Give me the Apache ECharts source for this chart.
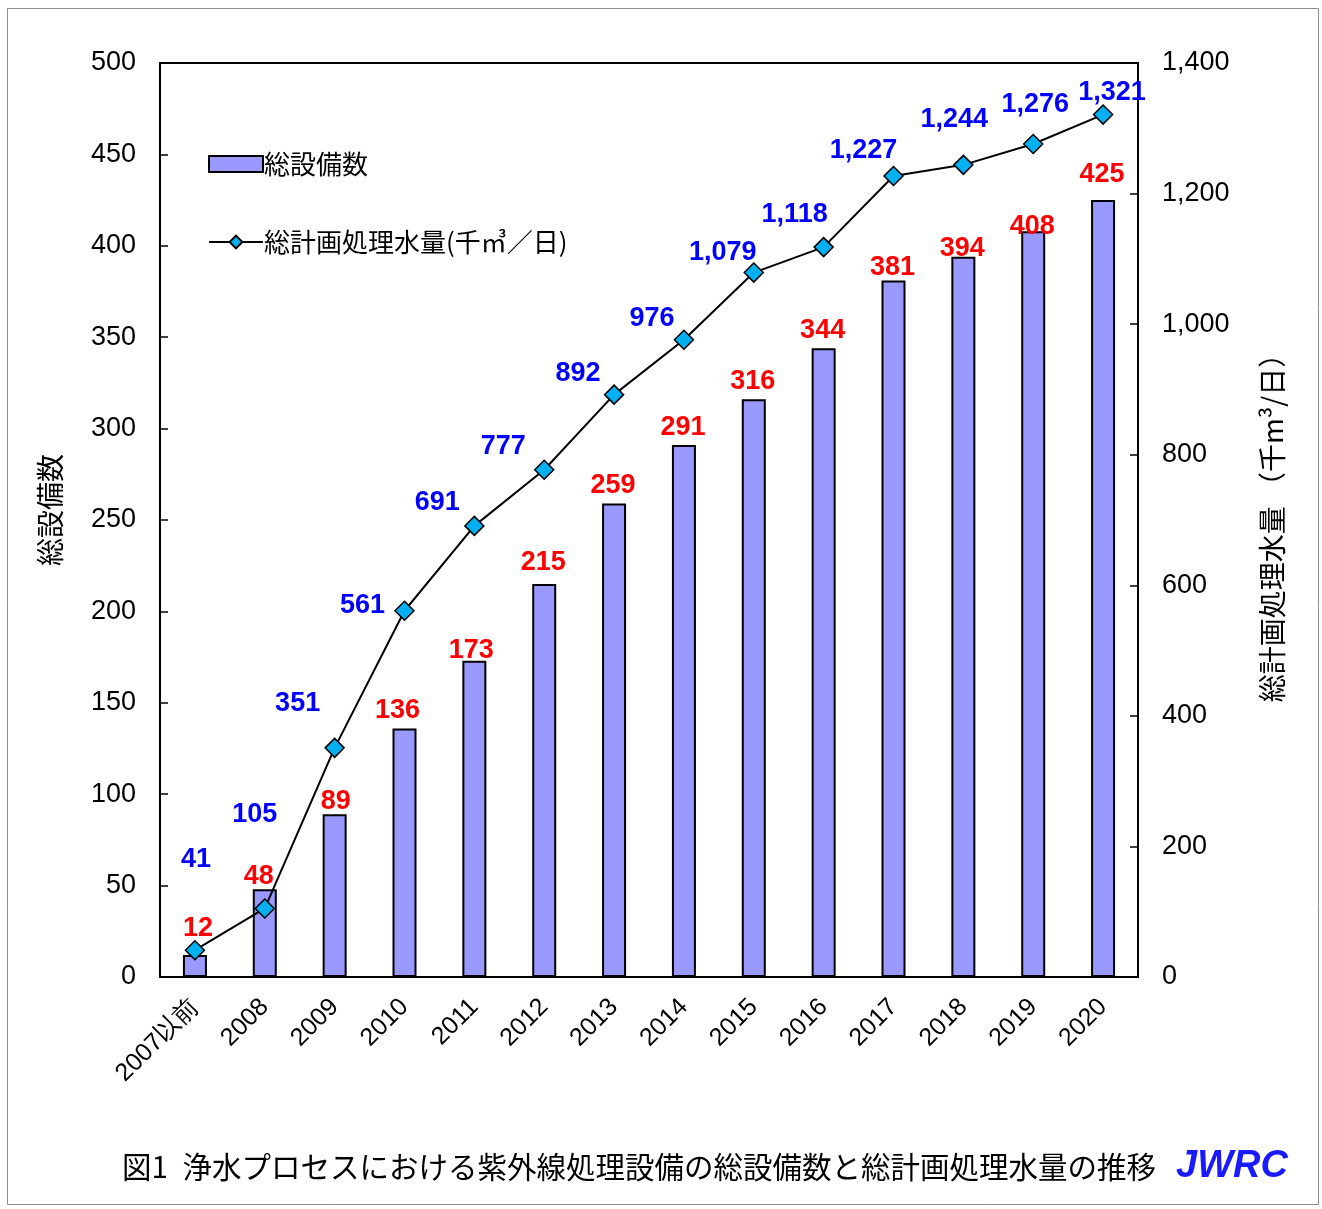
<!DOCTYPE html>
<html><head><meta charset="utf-8">
<script src="https://cdn.jsdelivr.net/npm/echarts@6/dist/echarts.min.js"></script>
<style>html,body{margin:0;padding:0;background:#fff}#c{width:1322px;height:1209px}</style>
</head><body><div id="c"></div>
<script>
const categories = ['2007以前','2008','2009','2010','2011','2012','2013','2014','2015','2016','2017','2018','2019','2020'];
const facilityCount = [12,48,89,136,173,215,259,291,316,344,381,394,408,425];
const treatmentVolume = [41,105,351,561,691,777,892,976,1079,1118,1227,1244,1276,1321];
const leftTicks = {min:0, max:500, interval:50};
const rightTicks = {min:0, max:1400, interval:200};
const leftAxisName = '総設備数';
const rightAxisName = '総計画処理水量 （千m³/日）';
const titleText = '図1\u2002浄水プロセスにおける紫外線処理設備の総設備数と総計画処理水量の推移';

// label placement (style), relative offsets in px
const barLabelOffsets = [[3,-13],[-6,1],[1,1],[-7,-4],[-3,3],[-1,-8],[-1,-5],[-1,-4],[-1,-4],[-1,-4],[-1,1],[-1,5],[-1,9],[-1,-12]];
const lineLabelOffsets = [[1,-91],[-10,-94],[-37,-44],[-42,-5],[-37,-23],[-41,-23],[-36,-21],[-32,-21],[-31,-20],[-29,-33],[-30,-25],[-9,-45],[2,-39],[9,-22]];

const NUM = 'Liberation Sans, Arial, sans-serif';
const JP = '"Noto Sans CJK JP", sans-serif';

const chart = echarts.init(document.getElementById('c'), null, {renderer:'canvas'});
chart.setOption({
  animation:false,
  backgroundColor:'#fff',
  graphic:[
    {type:'rect', shape:{x:7.5,y:8.5,width:1311,height:1196}, style:{fill:'none', stroke:'#8c8c8c', lineWidth:1}, z:-1},
    {type:'text', left:122, top:1152, style:{text:titleText, font:'29.5px '+JP, fill:'#000'}},
    {type:'text', left:1176, top:1148, style:{text:'JWRC', font:'italic bold 38px '+NUM, fill:'#1a1aff'}},
    {type:'text', x:50, y:510, rotation:Math.PI/2, style:{text:leftAxisName, font:'28px '+JP, fill:'#000', align:'center', verticalAlign:'middle'}},
    {type:'text', x:1272, y:521, rotation:Math.PI/2, style:{text:rightAxisName, font:'28px '+JP, fill:'#000', align:'center', verticalAlign:'middle'}}
  ],
  grid:{left:160, top:63, right:184, bottom:232, show:true, borderColor:'#000', borderWidth:2, backgroundColor:'transparent'},
  legend:{
    orient:'vertical', left:203, top:146, itemGap:52, itemWidth:54, itemHeight:16,
    textStyle:{fontFamily:JP, fontSize:26, color:'#000', padding:[0,0,0,-4]},
    data:[{name:'総設備数', icon:'rect'}, {name:'総計画処理水量(千㎥／日)'}]
  },
  xAxis:{
    type:'category', data:categories,
    axisLine:{lineStyle:{color:'#000', width:2}},
    axisTick:{inside:true, length:8, lineStyle:{color:'#000', width:1.5}},
    axisLabel:{rotate:45, fontFamily:NUM, fontSize:25, color:'#000', margin:26, interval:0}
  },
  yAxis:[
    {type:'value', min:leftTicks.min, max:leftTicks.max, interval:leftTicks.interval,
     axisLine:{show:true, lineStyle:{color:'#000', width:2}},
     axisTick:{show:true, inside:true, length:8, lineStyle:{color:'#000', width:1.5}},
     splitLine:{show:false},
     axisLabel:{fontFamily:NUM, fontSize:27, color:'#000', margin:24}},
    {type:'value', min:rightTicks.min, max:rightTicks.max, interval:rightTicks.interval, position:'right',
     axisLine:{show:true, lineStyle:{color:'#000', width:2}},
     axisTick:{show:true, inside:true, length:8, lineStyle:{color:'#000', width:1.5}},
     splitLine:{show:false},
     axisLabel:{fontFamily:NUM, fontSize:27, color:'#000', margin:24,
       formatter:v=>v.toLocaleString('en-US')}}
  ],
  series:[
    {name:'総設備数', type:'bar', yAxisIndex:0, barWidth:24,
     itemStyle:{color:'#9999ff', borderColor:'#000', borderWidth:2},
     data:facilityCount.map((v,i)=>({value:v, label:{offset:barLabelOffsets[i]}})),
     label:{show:true, position:'top', distance:0, fontFamily:NUM, fontWeight:'bold', fontSize:27, color:'#ff0000'}},
    {name:'総計画処理水量(千㎥／日)', type:'line', yAxisIndex:1,
     symbol:'diamond', symbolSize:19,
     lineStyle:{color:'#000', width:2},
     itemStyle:{color:'#00b0f0', borderColor:'#000', borderWidth:1.5},
     data:treatmentVolume.map((v,i)=>({value:v, label:{offset:lineLabelOffsets[i]}})),
     label:{show:true, position:'inside', fontFamily:NUM, fontWeight:'bold', fontSize:27, color:'#0000ff',
       formatter:p=>p.value.toLocaleString('en-US')}, z:3}
  ]
});
</script></body></html>
